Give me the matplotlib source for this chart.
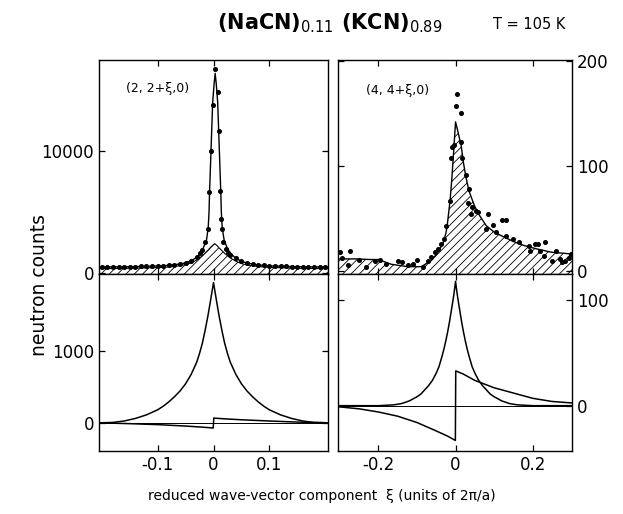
import matplotlib
matplotlib.use("Agg")
import matplotlib.pyplot as plt

plt.rcParams['font.family'] = ['DejaVu Sans']
plt.rcParams['hatch.linewidth'] = 0.6

# ---- (2,2+xi,0), top left: measured counts, total fit, broad (hatched) part
tl_x_pts = [-0.2, -0.19, -0.18, -0.17, -0.16, -0.15, -0.14, -0.13, -0.12, -0.11,
            -0.10, -0.09, -0.08, -0.07, -0.06, -0.05, -0.04, -0.03, -0.024, -0.02,
            -0.0155, -0.0101, -0.0077, -0.0042, -0.0012, 0.0024, 0.0083, 0.0101,
            0.0125, 0.0132, 0.0145, 0.0173, 0.022, 0.026, 0.03, 0.04, 0.05, 0.06,
            0.07, 0.08, 0.09, 0.10, 0.11, 0.12, 0.13, 0.14, 0.15, 0.16, 0.17, 0.18,
            0.19, 0.2]
tl_y_pts = [480, 470, 500, 460, 490, 510, 480, 520, 530, 540,
            570, 590, 620, 660, 720, 830, 990, 1300, 1600, 1900,
            2550, 3580, 6640, 10000, 13820, 16750, 14890, 11640,
            6720, 4400, 3580, 2510, 1950, 1650, 1450, 1180, 960, 820,
            720, 660, 620, 580, 550, 540, 520, 500, 510, 480, 470, 490,
            460, 470]
tl_x_fit = [-0.205, -0.15, -0.1, -0.08, -0.06, -0.05, -0.04, -0.03, -0.025, -0.02,
            -0.016, -0.0125, -0.0095, -0.008, -0.007, -0.0045, -0.0015, 0.001, 0.003,
            0.005, 0.0075, 0.0105, 0.013, 0.014, 0.0155, 0.019, 0.024, 0.029, 0.035,
            0.04, 0.05, 0.06, 0.08, 0.1, 0.15, 0.205]
tl_y_fit = [470, 500, 560, 610, 720, 820, 980, 1280, 1500, 1850,
            2300, 2700, 3700, 5000, 6700, 10000, 14000, 15500, 16400,
            15500, 14000, 10000, 6700, 5000, 3700, 2700, 2100, 1700, 1400,
            1200, 950, 800, 650, 570, 500, 470]
tl_x_broad = [-0.205, -0.15, -0.1, -0.08, -0.06, -0.05, -0.04, -0.03, -0.02, -0.01,
              -0.004, 0.0, 0.002, 0.006, 0.01, 0.02, 0.03, 0.04, 0.05, 0.06, 0.08,
              0.1, 0.15, 0.205]
tl_y_broad = [340, 370, 430, 480, 580, 680, 820, 1050, 1400, 1850,
              2150, 2320, 2400, 2250, 2050, 1600, 1230, 950, 760, 640, 520,
              450, 380, 340]

# ---- (2,2+xi,0), bottom left: symmetric and antisymmetric components
bl_x_sym = [-0.205, -0.18, -0.16, -0.14, -0.12, -0.1, -0.09, -0.08, -0.07, -0.06,
            -0.05, -0.04, -0.03, -0.025, -0.02, -0.015, -0.01, -0.006, -0.003, 0.0,
            0.003, 0.006, 0.01, 0.015, 0.02, 0.025, 0.03, 0.04, 0.05, 0.06, 0.07,
            0.08, 0.09, 0.1, 0.12, 0.14, 0.16, 0.18, 0.205]
bl_y_sym = [0, 5, 25, 60, 110, 180, 230, 290, 360, 440,
            540, 670, 840, 960, 1100, 1280, 1480, 1660, 1800, 1940,
            1800, 1660, 1480, 1280, 1100, 960, 840, 670, 540, 440, 360,
            290, 230, 180, 110, 60, 25, 5, 0]
bl_x_anti = [-0.205, -0.15, -0.1, -0.05, -0.02, -0.0005, 0.0005, 0.02, 0.05, 0.1,
             0.15, 0.205]
bl_y_anti = [0, -12, -25, -45, -60, -72, 65, 55, 42, 25, 10, 0]

# ---- (4,4+xi,0), top right
tr_x_pts = [-0.301, -0.295, -0.28, -0.273, -0.25, -0.232, -0.21, -0.195, -0.18,
            -0.15, -0.14, -0.124, -0.11, -0.1, -0.085, -0.071, -0.063, -0.054,
            -0.045, -0.037, -0.03, -0.025, -0.014, -0.011, -0.0096, -0.004, 0.0,
            0.0026, 0.013, 0.0138, 0.016, 0.026, 0.032, 0.036, 0.04, 0.042, 0.053,
            0.058, 0.08, 0.084, 0.097, 0.104, 0.12, 0.13, 0.131, 0.148, 0.165,
            0.19, 0.192, 0.205, 0.213, 0.218, 0.23, 0.232, 0.25, 0.26, 0.27,
            0.275, 0.285, 0.295, 0.3]
tr_y_pts = [18, 12, 6, 18.5, 10, 3.5, 9.8, 10.5, 7,
            9, 8, 5.4, 7, 10.8, 4, 9.8, 13, 17.8,
            21, 25.7, 30.5, 43, 67, 108, 118, 120, 157,
            168.6, 123, 150, 108, 91, 65, 78, 54, 61, 57,
            56, 40, 54, 44, 37, 48.6, 48.6, 33, 30.5, 27.3,
            24, 19.3, 26, 26, 19.3, 14.6, 27.3, 9.8, 19, 11.4,
            8, 9, 12, 16]
tr_x_fit = [-0.305, -0.26, -0.22, -0.2, -0.167, -0.124, -0.089, -0.063, -0.045,
            -0.032, -0.025, -0.0217, -0.018, -0.014, -0.0096, -0.006, -0.003, 0.0,
            0.004, 0.0148, 0.02, 0.0277, 0.035, 0.049, 0.06, 0.0797, 0.1, 0.127,
            0.15, 0.179, 0.21, 0.248, 0.305]
tr_y_fit = [11.4, 11.4, 10.8, 10.8, 6.3, 4, 4, 9.8, 17.8,
            27, 36, 43, 55, 68, 88, 108, 125, 142,
            136, 119, 104, 88, 76, 62, 54, 43, 37, 32,
            28, 24, 21, 17.8, 16]

# ---- (4,4+xi,0), bottom right
br_x_sym = [-0.305, -0.2, -0.16, -0.14, -0.12, -0.1, -0.09, -0.08, -0.07, -0.06,
            -0.05, -0.043, -0.035, -0.03, -0.025, -0.02, -0.016, -0.012, -0.008,
            -0.005, -0.002, 0.0, 0.002, 0.005, 0.008, 0.012, 0.016, 0.02, 0.025,
            0.03, 0.035, 0.043, 0.05, 0.06, 0.07, 0.08, 0.09, 0.1, 0.12, 0.14,
            0.16, 0.2, 0.305]
br_y_sym = [0, 0, 0.8, 2, 4.5, 8.5, 11, 15, 19, 24,
            31, 37, 47, 54, 62, 71, 79, 88, 97,
            104, 112, 118, 112, 104, 97, 88, 79, 71, 62,
            54, 47, 37, 31, 24, 19, 15, 11, 8.5, 4.5, 2,
            0.8, 0, 0]
br_x_anti = [-0.305, -0.25, -0.2, -0.15, -0.1, -0.05, -0.02, -0.0005, 0.0005, 0.02,
             0.05, 0.1, 0.15, 0.2, 0.25, 0.305]
br_y_anti = [-1, -3, -6, -10, -16, -24, -29, -33, 33, 30,
             24, 17, 12, 7, 4, 2.5]

fig = plt.figure(figsize=(6.23, 5.14), dpi=100)
ax_tl = fig.add_axes([0.1589, 0.4669, 0.3676, 0.4164])
ax_bl = fig.add_axes([0.1589, 0.1226, 0.3676, 0.3444])
ax_tr = fig.add_axes([0.5425, 0.4669, 0.3756, 0.4164])
ax_br = fig.add_axes([0.5425, 0.1226, 0.3756, 0.3444])

for ax in (ax_tl, ax_bl, ax_tr, ax_br):
    ax.tick_params(direction='in', top=True, right=True, length=4, width=0.9,
                   labelsize=12)
    for s in ax.spines.values():
        s.set_linewidth(1.0)

# top left
ax_tl.set_xlim(-0.205, 0.205)
ax_tl.set_ylim(-100, 17500)
ax_tl.fill_between(tl_x_broad, -100, tl_y_broad, facecolor='white',
                   edgecolor='black', hatch='////', linewidth=0)
ax_tl.plot(tl_x_broad, tl_y_broad, color='black', lw=0.8)
ax_tl.plot(tl_x_fit, tl_y_fit, color='black', lw=1.0)
ax_tl.plot(tl_x_pts, tl_y_pts, 'o', color='black', ms=2.6)
ax_tl.set_xticks([-0.1, 0, 0.1])
ax_tl.set_xticklabels([])
ax_tl.set_yticks([0, 10000])
ax_tl.set_yticklabels(['0', '10000'])
ax_tl.text(0.12, 0.85, '(2, 2+ξ,0)', transform=ax_tl.transAxes, fontsize=9)

# bottom left
ax_bl.set_xlim(-0.205, 0.205)
ax_bl.set_ylim(-390, 2060)
ax_bl.axhline(0, color='black', lw=0.7)
ax_bl.plot(bl_x_sym, bl_y_sym, color='black', lw=1.1)
ax_bl.plot(bl_x_anti, bl_y_anti, color='black', lw=1.1)
ax_bl.set_xticks([-0.1, 0, 0.1])
ax_bl.set_xticklabels(['-0.1', '0', '0.1'])
ax_bl.set_yticks([0, 1000])
ax_bl.set_yticklabels(['0', '1000'])

# top right
ax_tr.set_xlim(-0.305, 0.302)
ax_tr.set_ylim(-3, 201)
ax_tr.fill_between(tr_x_fit, -3, tr_y_fit, facecolor='white',
                   edgecolor='black', hatch='////', linewidth=0)
ax_tr.plot(tr_x_fit, tr_y_fit, color='black', lw=1.0)
ax_tr.plot(tr_x_pts, tr_y_pts, 'o', color='black', ms=2.6)
ax_tr.set_xticks([-0.2, 0, 0.2])
ax_tr.set_xticklabels([])
ax_tr.set_yticks([0, 100, 200])
ax_tr.tick_params(axis='y', labelleft=False, labelright=True)
ax_tr.text(0.12, 0.84, '(4, 4+ξ,0)', transform=ax_tr.transAxes, fontsize=9)

# bottom right
ax_br.set_xlim(-0.305, 0.302)
ax_br.set_ylim(-43, 125)
ax_br.axhline(0, color='black', lw=0.7)
ax_br.plot(br_x_sym, br_y_sym, color='black', lw=1.1)
ax_br.plot(br_x_anti, br_y_anti, color='black', lw=1.1)
ax_br.set_xticks([-0.2, 0, 0.2])
ax_br.set_xticklabels(['-0.2', '0', '0.2'])
ax_br.set_yticks([0, 100])
ax_br.tick_params(axis='y', labelleft=False, labelright=True)

fig.text(0.064, 0.445, 'neutron counts', rotation=90, ha='center', va='center',
         fontsize=13.5)
fig.text(0.517, 0.022, 'reduced wave-vector component  ξ (units of 2π/a)',
         ha='center', va='bottom', fontsize=10)
fig.text(0.53, 0.955, r'(NaCN)$_{0.11}$ (KCN)$_{0.89}$', ha='center',
         va='center', fontsize=15, fontweight='bold')
fig.text(0.85, 0.953, 'T = 105 K', ha='center', va='center', fontsize=10.5)

fig.savefig('out.png', dpi=100)
